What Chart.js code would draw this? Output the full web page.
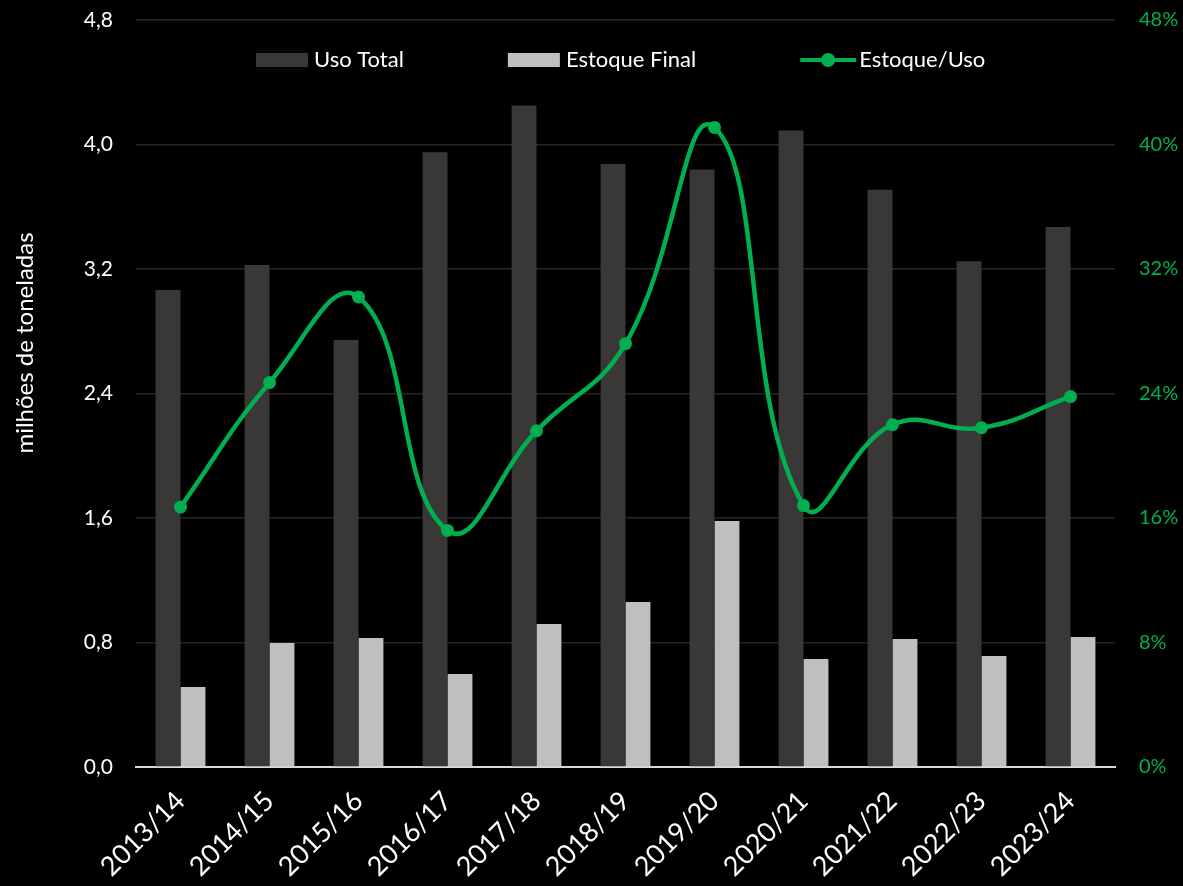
<!DOCTYPE html>
<html><head><meta charset="utf-8">
<script src="https://cdn.jsdelivr.net/npm/chart.js@4/dist/chart.umd.min.js"></script>
<style>html,body{margin:0;padding:0;background:#000;}#wrap{width:1183px;height:886px;position:relative;}</style>
</head><body><div id="wrap"><canvas id="c" width="1183" height="886" style="width:1183px;height:886px;"></canvas></div>
<script>
const categories = ['2013/14','2014/15','2015/16','2016/17','2017/18','2018/19','2019/20','2020/21','2021/22','2022/23','2023/24'];
const usoTotal = [3.065, 3.226, 2.744, 3.95, 4.25, 3.875, 3.84, 4.09, 3.71, 3.25, 3.47];
const estoqueFinal = [0.514, 0.797, 0.829, 0.598, 0.919, 1.06, 1.58, 0.694, 0.823, 0.713, 0.835];
const estoqueUso = [16.7, 24.7, 30.2, 15.2, 21.6, 27.2, 41.1, 16.8, 22.0, 21.8, 23.8];
const leftTicks = [0, 0.8, 1.6, 2.4, 3.2, 4.0, 4.8];
const rightTicks = [0, 8, 16, 24, 32, 40, 48];
const yTitle = 'milhões de toneladas';

const FONT = 'Lato, "Open Sans", sans-serif';
const GREEN = '#00b050';
const USO_COLOR = '#3a3836';
const EST_COLOR = '#bfbfbf';

const legendPlugin = {
  id: 'customLegend',
  afterDraw(chart) {
    const ctx = chart.ctx;
    const ds = chart.data.datasets;
    ctx.save();
    ctx.font = '22px ' + FONT;
    ctx.textBaseline = 'middle';
    ctx.textAlign = 'left';
    let x = 256;
    const y = 60;
    [1, 2, 0].forEach(i => {
      const d = ds[i];
      if (d.type === 'line') {
        ctx.strokeStyle = d.borderColor;
        ctx.lineWidth = 4;
        ctx.beginPath(); ctx.moveTo(x, y); ctx.lineTo(x + 56, y); ctx.stroke();
        ctx.fillStyle = d.borderColor;
        ctx.beginPath(); ctx.arc(x + 28, y, 7, 0, Math.PI * 2); ctx.fill();
        x += 59;
      } else {
        ctx.fillStyle = d.backgroundColor;
        ctx.fillRect(x, y - 7, 52, 14);
        x += 58;
      }
      ctx.fillStyle = '#ffffff';
      ctx.fillText(d.label, x, y);
      x += ctx.measureText(d.label).width + 104;
    });
    // left axis title
    ctx.translate(25, 343);
    ctx.rotate(-Math.PI / 2);
    ctx.textAlign = 'center';
    ctx.font = '24px ' + FONT;
    ctx.fillText(yTitle, 0, 0);
    ctx.restore();
  }
};

function fixV(width) {
  return function (s) { s.width = width; s.paddingTop = 0; s.paddingBottom = 0; };
}

new Chart(document.getElementById('c'), {
  data: {
    labels: categories,
    datasets: [
      { type: 'line', label: 'Estoque/Uso', data: estoqueUso, yAxisID: 'y1', borderColor: GREEN, backgroundColor: GREEN,
        borderWidth: 4.5, pointRadius: 6.5, pointBackgroundColor: GREEN, pointBorderWidth: 0, tension: 0.45, order: 0, clip: false },
      { type: 'bar', label: 'Uso Total', data: usoTotal, yAxisID: 'y', backgroundColor: USO_COLOR, order: 1,
        categoryPercentage: 0.56, barPercentage: 1 },
      { type: 'bar', label: 'Estoque Final', data: estoqueFinal, yAxisID: 'y', backgroundColor: EST_COLOR, order: 1,
        categoryPercentage: 0.56, barPercentage: 1 }
    ]
  },
  options: {
    responsive: false,
    maintainAspectRatio: false,
    animation: false,
    devicePixelRatio: 1,
    layout: { padding: { top: 20, left: 0, right: 0, bottom: 0 } },
    plugins: { legend: { display: false }, tooltip: { enabled: false } },
    scales: {
      x: {
        grid: { display: false },
        border: { display: true, color: '#d9d9d9', width: 2 },
        ticks: { color: '#ffffff', font: { family: FONT, size: 27 }, maxRotation: 45, minRotation: 45, padding: 10 },
        afterFit(s) { s.height = 119; s.paddingTop = 0; s.paddingBottom = 0; }
      },
      y: {
        position: 'left', min: 0, max: 4.8,
        afterBuildTicks(s) { s.ticks = leftTicks.map(v => ({ value: v })); },
        grid: { color: '#262626', lineWidth: 1.5, drawTicks: false },
        border: { display: false },
        ticks: { color: '#ffffff', font: { family: FONT, size: 21 }, padding: 23,
          callback: v => v.toFixed(1).replace('.', ',') },
        afterFit: fixV(136)
      },
      y1: {
        position: 'right', min: 0, max: 48,
        afterBuildTicks(s) { s.ticks = rightTicks.map(v => ({ value: v })); },
        grid: { display: false },
        border: { display: false },
        ticks: { color: GREEN, font: { family: FONT, size: 20 }, padding: 16, callback: v => v + '%' },
        afterFit: fixV(68)
      }
    }
  },
  plugins: [legendPlugin, {
    id: 'bg',
    beforeDraw(chart) { const c = chart.ctx; c.save(); c.fillStyle = '#000'; c.fillRect(0, 0, chart.width, chart.height); c.restore(); }
  }]
});
</script>
</body></html>
